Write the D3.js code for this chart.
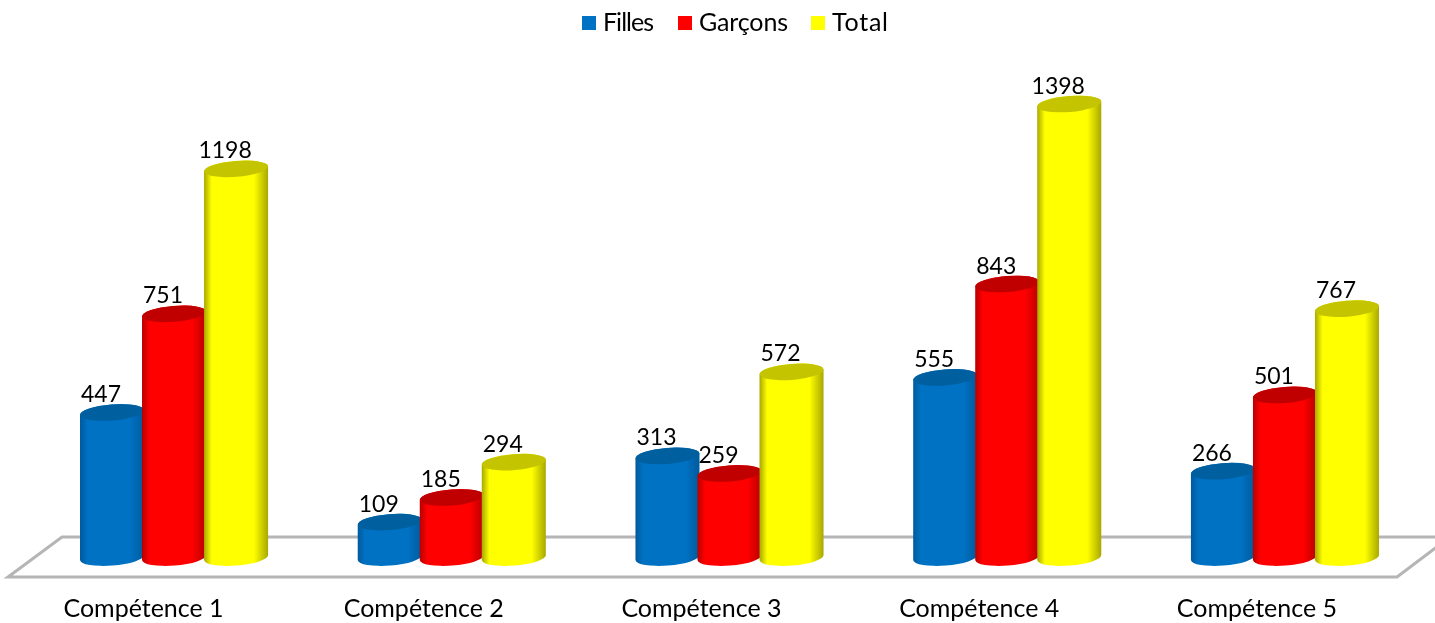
<!DOCTYPE html>
<html lang="fr">
  <head>
    <meta charset="utf-8" />
    <style>
      html, body { margin: 0; padding: 0; background: #fff; overflow: hidden; }
      svg { display: block; }
      text { font-family: Lato, "Open Sans", sans-serif; fill: #000; }
    </style>
    <script src="https://d3js.org/d3.v7.min.js"></script>
  </head>
  <body>
    <svg width="1435" height="623"></svg>
    <script>
      const categories = ["Compétence 1", "Compétence 2", "Compétence 3", "Compétence 4", "Compétence 5"];
      const seriesNames = ["Filles", "Garçons", "Total"];
      const filles = [447, 109, 313, 555, 266];
      const garcons = [751, 185, 259, 843, 501];
      const total = [1198, 294, 572, 1398, 767];
      const seriesValues = [filles, garcons, total];

      // main, edge, top of each cylinder
      const colors = [
        ["#0072c4", "#005a9c", "#005f9e"],
        ["#ff0000", "#b80000", "#c00000"],
        ["#ffff00", "#a8a800", "#c4c400"],
      ];

      const svg = d3.select("svg");
      const baseY = 557.5;
      const rx = 32, ry = 8, tilt = -4.5;
      const dy = rx * Math.sin((tilt * Math.PI) / 180);

      const x0 = d3.scaleBand().domain(categories).range([80, 1377]).paddingInner(0.33).paddingOuter(0);
      const x1 = d3.scaleBand().domain(seriesNames).range([0, x0.bandwidth()]);
      const y = d3.scaleLinear().domain([0, 1398]).range([baseY, 104]);
      const barWidth = x1.bandwidth() + 2;

      const defs = svg.append("defs");
      defs.append("filter").attr("id", "soft").append("feGaussianBlur").attr("stdDeviation", 0.6);
      seriesNames.forEach(function (name, i) {
        const grad = defs.append("linearGradient").attr("id", "grad" + i);
        grad.append("stop").attr("offset", "0%").attr("stop-color", colors[i][1]);
        grad.append("stop").attr("offset", "12%").attr("stop-color", colors[i][0]);
        grad.append("stop").attr("offset", "78%").attr("stop-color", colors[i][0]);
        grad.append("stop").attr("offset", "100%").attr("stop-color", colors[i][1]);
      });

      const chart = svg.append("g").attr("filter", "url(#soft)");

      // floor
      chart.append("path")
        .attr("d", "M1450,537 H62 L8,577 H1397 L1450,537")
        .attr("fill", "#fff")
        .attr("stroke", "#b5b5b5")
        .attr("stroke-width", 3);

      function side(d) {
        const left = x0(d.cat) + x1(d.name);
        const right = left + barWidth;
        const top = y(d.value);
        return (
          "M" + left + "," + (top - dy) +
          " L" + left + "," + (baseY - dy) +
          " A" + rx + "," + ry + " " + tilt + " 0 0 " + right + "," + (baseY + dy) +
          " L" + right + "," + (top + dy) +
          " A" + rx + "," + ry + " " + tilt + " 0 0 " + left + "," + (top - dy) + "Z"
        );
      }

      const rows = seriesNames.flatMap(function (name, i) {
        return categories.map(function (cat, j) {
          return { name: name, i: i, cat: cat, value: seriesValues[i][j] };
        });
      });

      const bars = chart.selectAll(".bar").data(rows).enter().append("g").attr("class", "bar");

      bars.append("path")
        .attr("d", side)
        .attr("fill", function (d) { return "url(#grad" + d.i + ")"; });

      bars.append("ellipse")
        .attr("rx", rx)
        .attr("ry", ry)
        .attr("transform", function (d) {
          const cx = x0(d.cat) + x1(d.name) + barWidth / 2;
          return "translate(" + cx + "," + y(d.value) + ") rotate(" + tilt + ")";
        })
        .attr("fill", function (d) { return colors[d.i][2]; });

      chart.selectAll(".value").data(rows).enter().append("text")
        .attr("class", "value")
        .attr("x", function (d) { return x0(d.cat) + x1(d.name) + barWidth / 2 - 11; })
        .attr("y", function (d) { return y(d.value) - 10.5; })
        .attr("text-anchor", "middle")
        .attr("font-size", 23)
        .text(function (d) { return d.value; });

      // category labels
      const axis = chart.append("g")
        .attr("transform", "translate(-27,596)")
        .call(d3.axisBottom(x0).tickSize(0).tickPadding(0));
      axis.select(".domain").remove();
      axis.selectAll("text").attr("font-size", 25).attr("dy", 21)
        .attr("dx", function (d, i) { return i === 0 ? -2.5 : 0; })
        .style("font-family", "Lato, 'Open Sans', sans-serif");

      // legend
      const legendX = [582, 678, 811];
      const legendTextWidth = [51, 89, 56];
      const legend = chart.selectAll(".legend").data(seriesNames).enter().append("g")
        .attr("class", "legend")
        .attr("transform", function (d, i) { return "translate(" + legendX[i] + ",16)"; });
      legend.append("rect").attr("width", 14).attr("height", 14)
        .attr("fill", function (d, i) { return colors[i][0]; });
      legend.append("text").attr("x", 21).attr("y", 14.5).attr("font-size", 25)
        .attr("textLength", function (d, i) { return legendTextWidth[i]; })
        .text(function (d) { return d; });
    </script>
  </body>
</html>
